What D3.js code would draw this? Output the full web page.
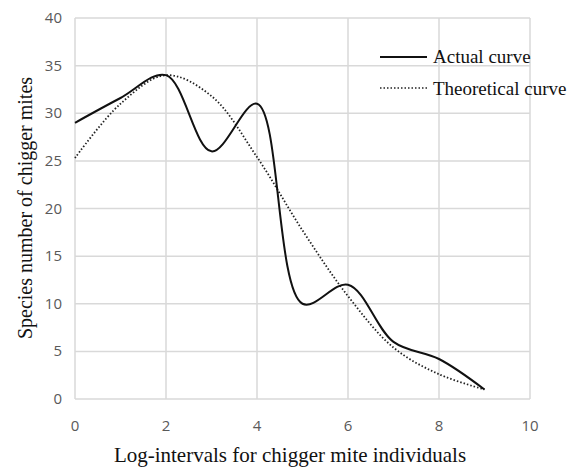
<!DOCTYPE html>
<html>
<head>
<meta charset="utf-8">
<script src="https://cdn.jsdelivr.net/npm/d3@7"></script>
<style>
  body { margin: 0; background: #fff; }
  svg { display: block; }
</style>
</head>
<body>
<svg id="chart" width="574" height="469"></svg>
<script>
// values
var xValues = [0, 1, 2, 3, 4, 5, 6, 7, 8, 9];
var actual = [29, 31.6, 34, 26, 31, 10, 12, 6, 4.2, 1];
var theoretical = [25.3, 31, 34, 31.8, 25.4, 17.7, 10.8, 5.4, 2.6, 1];
var xTicks = [0, 2, 4, 6, 8, 10];
var yTicks = [0, 5, 10, 15, 20, 25, 30, 35, 40];

var svg = d3.select("#chart"),
    MARGINS = { top: 18, right: 44, bottom: 70, left: 75 },
    WIDTH = 574,
    HEIGHT = 469;

var xScale = d3.scaleLinear()
    .domain([0, 10])
    .range([MARGINS.left, WIDTH - MARGINS.right]);
var yScale = d3.scaleLinear()
    .domain([0, 40])
    .range([HEIGHT - MARGINS.bottom, MARGINS.top]);

// grid
svg.append("g")
    .selectAll("line.h")
    .data(yTicks)
    .enter().append("line")
    .attr("x1", xScale(0)).attr("x2", xScale(10))
    .attr("y1", function(d) { return yScale(d); })
    .attr("y2", function(d) { return yScale(d); })
    .attr("stroke", "#d9d9d9").attr("stroke-width", 1.5);

svg.append("g")
    .selectAll("line.v")
    .data(xTicks)
    .enter().append("line")
    .attr("y1", yScale(0)).attr("y2", yScale(40))
    .attr("x1", function(d) { return xScale(d); })
    .attr("x2", function(d) { return xScale(d); })
    .attr("stroke", "#d9d9d9").attr("stroke-width", 1.5);

// tick labels
var tickFont = "'Open Sans', 'Liberation Sans', sans-serif";
svg.append("g")
    .selectAll("text")
    .data(xTicks)
    .enter().append("text")
    .attr("x", function(d) { return xScale(d); })
    .attr("y", 431)
    .attr("text-anchor", "middle")
    .attr("font-family", tickFont)
    .attr("font-size", 15)
    .attr("fill", "#595959")
    .text(function(d) { return d; });

svg.append("g")
    .selectAll("text")
    .data(yTicks)
    .enter().append("text")
    .attr("x", 62)
    .attr("y", function(d) { return yScale(d) + 5; })
    .attr("text-anchor", "end")
    .attr("font-family", tickFont)
    .attr("font-size", 15)
    .attr("fill", "#595959")
    .text(function(d) { return d; });

// curves
var lineGen = function(vals) {
    return d3.line()
        .x(function(d, i) { return xScale(xValues[i]); })
        .y(function(d) { return yScale(d); })
        .curve(d3.curveCatmullRom.alpha(0.5))(vals);
};

svg.append("path")
    .attr("d", lineGen(theoretical))
    .attr("fill", "none")
    .attr("stroke", "#222")
    .attr("stroke-width", 1.8)
    .attr("stroke-dasharray", "1.5,2");

svg.append("path")
    .attr("d", lineGen(actual))
    .attr("fill", "none")
    .attr("stroke", "#111")
    .attr("stroke-width", 2);

// legend
var serif = "'Liberation Serif', 'DejaVu Serif', serif";
svg.append("line")
    .attr("x1", 380).attr("x2", 427).attr("y1", 57).attr("y2", 57)
    .attr("stroke", "#111").attr("stroke-width", 2);
svg.append("text")
    .attr("x", 433).attr("y", 63)
    .attr("font-family", serif).attr("font-size", 19).attr("fill", "#111")
    .text("Actual curve");
svg.append("line")
    .attr("x1", 380).attr("x2", 427).attr("y1", 88).attr("y2", 88)
    .attr("stroke", "#222").attr("stroke-width", 1.5)
    .attr("stroke-dasharray", "1.5,2");
svg.append("text")
    .attr("x", 433).attr("y", 95)
    .attr("font-family", serif).attr("font-size", 19).attr("fill", "#111")
    .text("Theoretical curve");

// axis titles
svg.append("text")
    .attr("x", 290).attr("y", 462)
    .attr("text-anchor", "middle")
    .attr("font-family", serif).attr("font-size", 21).attr("fill", "#111")
    .text("Log-intervals for chigger mite individuals");

svg.append("text")
    .attr("transform", "translate(32,208) rotate(-90)")
    .attr("text-anchor", "middle")
    .attr("font-family", serif).attr("font-size", 20).attr("fill", "#111")
    .text("Species number of chigger mites");
</script>
</body>
</html>
